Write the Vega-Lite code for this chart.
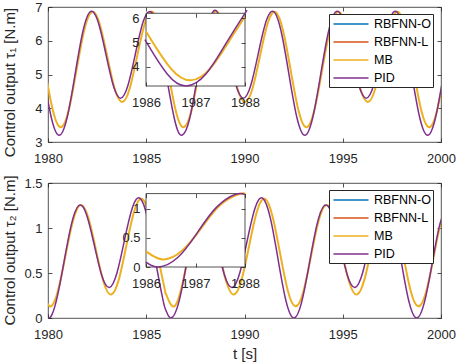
{
"$schema": "https://vega.github.io/schema/vega-lite/v6.json",
"background": "white",
"padding": {"left": 1, "top": 0, "right": 0, "bottom": 0},
"datasets": {
"p1": [
{"t":1979.789,"v":4.911},{"t":1980.179,"v":3.696},{"t":1980.570,"v":3.2},{"t":1980.961,"v":3.696},{"t":1981.351,"v":4.911},{"t":1981.742,"v":6.186},{"t":1982.133,"v":6.85},{"t":1982.523,"v":6.607},{"t":1982.914,"v":5.689},{"t":1983.304,"v":4.712},{"t":1983.695,"v":4.3},{"t":1984.086,"v":4.712},{"t":1984.476,"v":5.689},{"t":1984.867,"v":6.607},{"t":1985.258,"v":6.85},{"t":1985.648,"v":6.186},{"t":1986.000,"v":5.047},{"t":1986.039,"v":4.911},{"t":1986.429,"v":3.696},{"t":1986.820,"v":3.2},{"t":1987.211,"v":3.696},{"t":1987.601,"v":4.911},{"t":1987.992,"v":6.186},{"t":1988.000,"v":6.206},{"t":1988.383,"v":6.85},{"t":1988.773,"v":6.607},{"t":1989.164,"v":5.689},{"t":1989.554,"v":4.712},{"t":1989.945,"v":4.3},{"t":1990.336,"v":4.712},{"t":1990.726,"v":5.689},{"t":1991.117,"v":6.607},{"t":1991.508,"v":6.85},{"t":1991.898,"v":6.186},{"t":1992.289,"v":4.911},{"t":1992.679,"v":3.696},{"t":1993.070,"v":3.2},{"t":1993.461,"v":3.696},{"t":1993.851,"v":4.911},{"t":1994.242,"v":6.186},{"t":1994.633,"v":6.85},{"t":1995.023,"v":6.607},{"t":1995.414,"v":5.689},{"t":1995.804,"v":4.712},{"t":1996.195,"v":4.3},{"t":1996.586,"v":4.712},{"t":1996.976,"v":5.689},{"t":1997.367,"v":6.607},{"t":1997.758,"v":6.85},{"t":1998.148,"v":6.186},{"t":1998.539,"v":4.911},{"t":1998.929,"v":3.696},{"t":1999.320,"v":3.2},{"t":1999.711,"v":3.696},{"t":2000.101,"v":4.911}
],
"m1": [
{"t":1979.869,"v":5.065},{"t":1980.259,"v":3.909},{"t":1980.650,"v":3.435},{"t":1981.041,"v":3.909},{"t":1981.431,"v":5.065},{"t":1981.822,"v":6.261},{"t":1982.213,"v":6.85},{"t":1982.603,"v":6.548},{"t":1982.994,"v":5.595},{"t":1983.384,"v":4.602},{"t":1983.775,"v":4.185},{"t":1984.166,"v":4.602},{"t":1984.556,"v":5.595},{"t":1984.947,"v":6.548},{"t":1985.338,"v":6.85},{"t":1985.728,"v":6.261},{"t":1986.000,"v":5.458},{"t":1986.119,"v":5.065},{"t":1986.509,"v":3.909},{"t":1986.900,"v":3.435},{"t":1987.291,"v":3.909},{"t":1987.681,"v":5.065},{"t":1988.000,"v":6.07},{"t":1988.072,"v":6.261},{"t":1988.463,"v":6.85},{"t":1988.853,"v":6.548},{"t":1989.244,"v":5.595},{"t":1989.634,"v":4.602},{"t":1990.025,"v":4.185},{"t":1990.416,"v":4.602},{"t":1990.806,"v":5.595},{"t":1991.197,"v":6.548},{"t":1991.588,"v":6.85},{"t":1991.978,"v":6.261},{"t":1992.369,"v":5.065},{"t":1992.759,"v":3.909},{"t":1993.150,"v":3.435},{"t":1993.541,"v":3.909},{"t":1993.931,"v":5.065},{"t":1994.322,"v":6.261},{"t":1994.713,"v":6.85},{"t":1995.103,"v":6.548},{"t":1995.494,"v":5.595},{"t":1995.884,"v":4.602},{"t":1996.275,"v":4.185},{"t":1996.666,"v":4.602},{"t":1997.056,"v":5.595},{"t":1997.447,"v":6.548},{"t":1997.838,"v":6.85},{"t":1998.228,"v":6.261},{"t":1998.619,"v":5.065},{"t":1999.009,"v":3.909},{"t":1999.400,"v":3.435},{"t":1999.791,"v":3.909},{"t":2000.181,"v":5.065}
],
"p2": [
{"t":1979.609,"v":0.192},{"t":1980.000,"v":0.0},{"t":1980.391,"v":0.162},{"t":1980.781,"v":0.582},{"t":1981.172,"v":1.024},{"t":1981.563,"v":1.25},{"t":1981.953,"v":1.154},{"t":1982.344,"v":0.822},{"t":1982.734,"v":0.476},{"t":1983.125,"v":0.34},{"t":1983.516,"v":0.506},{"t":1983.906,"v":0.879},{"t":1984.297,"v":1.228},{"t":1984.688,"v":1.33},{"t":1985.078,"v":1.098},{"t":1985.469,"v":0.638},{"t":1985.859,"v":0.192},{"t":1986.000,"v":0.085},{"t":1986.250,"v":0.0},{"t":1986.641,"v":0.162},{"t":1987.031,"v":0.582},{"t":1987.422,"v":1.024},{"t":1987.813,"v":1.25},{"t":1988.000,"v":1.243},{"t":1988.203,"v":1.154},{"t":1988.594,"v":0.822},{"t":1988.984,"v":0.476},{"t":1989.375,"v":0.34},{"t":1989.766,"v":0.506},{"t":1990.156,"v":0.879},{"t":1990.547,"v":1.228},{"t":1990.938,"v":1.33},{"t":1991.328,"v":1.098},{"t":1991.719,"v":0.638},{"t":1992.109,"v":0.192},{"t":1992.500,"v":0.0},{"t":1992.891,"v":0.162},{"t":1993.281,"v":0.582},{"t":1993.672,"v":1.024},{"t":1994.063,"v":1.25},{"t":1994.453,"v":1.154},{"t":1994.844,"v":0.822},{"t":1995.234,"v":0.476},{"t":1995.625,"v":0.34},{"t":1996.016,"v":0.506},{"t":1996.406,"v":0.879},{"t":1996.797,"v":1.228},{"t":1997.188,"v":1.33},{"t":1997.578,"v":1.098},{"t":1997.969,"v":0.638},{"t":1998.359,"v":0.192},{"t":1998.750,"v":0.0},{"t":1999.141,"v":0.162},{"t":1999.531,"v":0.582},{"t":1999.922,"v":1.024},{"t":2000.313,"v":1.25}
],
"m2": [
{"t":1979.699,"v":0.309},{"t":1980.090,"v":0.13},{"t":1980.481,"v":0.282},{"t":1980.871,"v":0.672},{"t":1981.262,"v":1.072},{"t":1981.653,"v":1.255},{"t":1982.043,"v":1.122},{"t":1982.434,"v":0.764},{"t":1982.824,"v":0.402},{"t":1983.215,"v":0.26},{"t":1983.606,"v":0.429},{"t":1983.996,"v":0.813},{"t":1984.387,"v":1.187},{"t":1984.778,"v":1.325},{"t":1985.168,"v":1.137},{"t":1985.559,"v":0.721},{"t":1985.949,"v":0.309},{"t":1986.000,"v":0.269},{"t":1986.340,"v":0.13},{"t":1986.731,"v":0.282},{"t":1987.121,"v":0.672},{"t":1987.512,"v":1.072},{"t":1987.903,"v":1.255},{"t":1988.000,"v":1.251},{"t":1988.293,"v":1.122},{"t":1988.684,"v":0.764},{"t":1989.074,"v":0.402},{"t":1989.465,"v":0.26},{"t":1989.856,"v":0.429},{"t":1990.246,"v":0.813},{"t":1990.637,"v":1.187},{"t":1991.028,"v":1.325},{"t":1991.418,"v":1.137},{"t":1991.809,"v":0.721},{"t":1992.199,"v":0.309},{"t":1992.590,"v":0.13},{"t":1992.981,"v":0.282},{"t":1993.371,"v":0.672},{"t":1993.762,"v":1.072},{"t":1994.153,"v":1.255},{"t":1994.543,"v":1.122},{"t":1994.934,"v":0.764},{"t":1995.324,"v":0.402},{"t":1995.715,"v":0.26},{"t":1996.106,"v":0.429},{"t":1996.496,"v":0.813},{"t":1996.887,"v":1.187},{"t":1997.278,"v":1.325},{"t":1997.668,"v":1.137},{"t":1998.059,"v":0.721},{"t":1998.449,"v":0.309},{"t":1998.840,"v":0.13},{"t":1999.231,"v":0.282},{"t":1999.621,"v":0.672},{"t":2000.012,"v":1.072},{"t":2000.403,"v":1.255}
]
},
"spacing": 41,
"bounds": "flush",
"resolve": {"scale": {"color": "independent"}, "legend": {"color": "independent"}},
"vconcat": [
{
"width": 393, "height": 135,
"resolve": {"scale": {"x": "independent", "y": "independent"}, "axis": {"x": "independent", "y": "independent"}},
"layer": [
{"layer": [
{"data": {"name": "m1"}, "mark": {"type": "line", "interpolate": "natural", "clip": true, "strokeWidth": 2},
 "encoding": {
  "x": {"field": "t", "type": "quantitative", "scale": {"domain": [1980, 2000], "nice": false, "zero": false}, "axis": {"orient": "bottom", "values": [1980, 1985, 1990, 1995, 2000], "tickCount": 20, "format": "~g", "labelOverlap": false, "title": null}},
  "y": {"field": "v", "type": "quantitative", "scale": {"domain": [3, 7], "nice": false, "zero": false}, "axis": {"orient": "left", "values": [3, 4, 5, 6, 7], "tickCount": 20, "format": "~g", "labelOverlap": false, "labelPadding": 10, "title": "Control output τ₁ [N.m]", "titleX": -34, "titleY": 75, "titleAngle": 270, "titleBaseline": "alphabetic"}},
  "color": {"datum": "MB", "type": "nominal", "scale": {"domain": ["RBFNN-O", "RBFNN-L", "MB", "PID"], "range": ["#0072BD", "#D95319", "#EDB120", "#7E2F8E"]}, "legend": {"title": null, "orient": "none", "legendX": 281, "legendY": 7}}
 }},
{"data": {"name": "p1"}, "mark": {"type": "line", "interpolate": "natural", "clip": true, "strokeWidth": 1.5},
 "encoding": {
  "x": {"field": "t", "type": "quantitative"},
  "y": {"field": "v", "type": "quantitative"},
  "color": {"datum": "PID", "type": "nominal", "scale": {"domain": ["RBFNN-O", "RBFNN-L", "MB", "PID"], "range": ["#0072BD", "#D95319", "#EDB120", "#7E2F8E"]}}
 }}
]},
{"data": {"values": [{}]}, "mark": {"type": "point", "opacity": 0},
 "encoding": {
  "x": {"datum": 1990, "type": "quantitative", "scale": {"domain": [1980, 2000], "nice": false, "zero": false}, "axis": {"orient": "top", "values": [1980, 1985, 1990, 1995, 2000], "tickCount": 20, "labels": false, "title": null}},
  "y": {"datum": 5, "type": "quantitative", "scale": {"domain": [3, 7], "nice": false, "zero": false}, "axis": {"orient": "right", "values": [3, 4, 5, 6, 7], "tickCount": 20, "labels": false, "title": null}}
 }},
{"data": {"values": [{}]}, "mark": {"type": "rect", "fill": "white", "stroke": "#262626", "strokeWidth": 0.8},
 "encoding": {
  "x": {"datum": 1986, "type": "quantitative", "scale": {"domain": [1986, 1988], "range": [98, 197], "nice": false, "zero": false}, "axis": {"orient": "top", "offset": -6.3, "values": [1986, 1987, 1988], "tickCount": 20, "labels": false, "title": null, "zindex": 1}},
  "x2": {"datum": 1988},
  "y": {"datum": 3.2, "type": "quantitative", "scale": {"domain": [3.2, 6.21], "range": [79, 6.3], "nice": false, "zero": false}, "axis": {"orient": "right", "offset": -196, "values": [4, 5, 6], "tickCount": 20, "labels": false, "title": null, "zindex": 1}},
  "y2": {"datum": 6.21}
 }},
{"layer": [
{"data": {"name": "m1"}, "transform": [{"filter": "datum.t >= 1986 && datum.t <= 1988"}], "mark": {"type": "line", "interpolate": "natural", "strokeWidth": 2},
 "encoding": {
  "x": {"field": "t", "type": "quantitative", "scale": {"domain": [1986, 1988], "range": [98, 197], "nice": false, "zero": false}, "axis": {"orient": "bottom", "offset": -56, "values": [1986, 1987, 1988], "tickCount": 20, "format": "~g", "labelOverlap": false, "title": null, "zindex": 1}},
  "y": {"field": "v", "type": "quantitative", "scale": {"domain": [3.2, 6.21], "range": [79, 6.3], "nice": false, "zero": false}, "axis": {"orient": "left", "offset": -98, "values": [4, 5, 6], "tickCount": 20, "format": "~g", "labelOverlap": false, "labelPadding": 11, "title": null, "zindex": 1}},
  "color": {"datum": "MB", "type": "nominal", "scale": {"domain": ["RBFNN-O", "RBFNN-L", "MB", "PID"], "range": ["#0072BD", "#D95319", "#EDB120", "#7E2F8E"]}}
 }},
{"data": {"name": "p1"}, "transform": [{"filter": "datum.t >= 1986 && datum.t <= 1988"}], "mark": {"type": "line", "interpolate": "natural", "strokeWidth": 1.5},
 "encoding": {
  "x": {"field": "t", "type": "quantitative"},
  "y": {"field": "v", "type": "quantitative"},
  "color": {"datum": "PID", "type": "nominal", "scale": {"domain": ["RBFNN-O", "RBFNN-L", "MB", "PID"], "range": ["#0072BD", "#D95319", "#EDB120", "#7E2F8E"]}}
 }}
]}
]
},
{
"width": 393, "height": 135,
"resolve": {"scale": {"x": "independent", "y": "independent"}, "axis": {"x": "independent", "y": "independent"}},
"layer": [
{"layer": [
{"data": {"name": "m2"}, "mark": {"type": "line", "interpolate": "natural", "clip": true, "strokeWidth": 2},
 "encoding": {
  "x": {"field": "t", "type": "quantitative", "scale": {"domain": [1980, 2000], "nice": false, "zero": false}, "axis": {"orient": "bottom", "values": [1980, 1985, 1990, 1995, 2000], "tickCount": 20, "format": "~g", "labelOverlap": false, "title": "t [s]", "titleY": 40, "titleBaseline": "alphabetic"}},
  "y": {"field": "v", "type": "quantitative", "scale": {"domain": [0, 1.5], "nice": false, "zero": false}, "axis": {"orient": "left", "values": [0, 0.5, 1, 1.5], "tickCount": 20, "format": "~g", "labelOverlap": false, "labelPadding": 10, "title": "Control output τ₂ [N.m]", "titleX": -34, "titleY": 67, "titleAngle": 270, "titleBaseline": "alphabetic"}},
  "color": {"datum": "MB", "type": "nominal", "scale": {"domain": ["RBFNN-O", "RBFNN-L", "MB", "PID"], "range": ["#0072BD", "#D95319", "#EDB120", "#7E2F8E"]}, "legend": {"title": null, "orient": "none", "legendX": 281, "legendY": 7}}
 }},
{"data": {"name": "p2"}, "mark": {"type": "line", "interpolate": "natural", "clip": true, "strokeWidth": 1.5},
 "encoding": {
  "x": {"field": "t", "type": "quantitative"},
  "y": {"field": "v", "type": "quantitative"},
  "color": {"datum": "PID", "type": "nominal", "scale": {"domain": ["RBFNN-O", "RBFNN-L", "MB", "PID"], "range": ["#0072BD", "#D95319", "#EDB120", "#7E2F8E"]}}
 }}
]},
{"data": {"values": [{}]}, "mark": {"type": "point", "opacity": 0},
 "encoding": {
  "x": {"datum": 1990, "type": "quantitative", "scale": {"domain": [1980, 2000], "nice": false, "zero": false}, "axis": {"orient": "top", "values": [1980, 1985, 1990, 1995, 2000], "tickCount": 20, "labels": false, "title": null}},
  "y": {"datum": 0.5, "type": "quantitative", "scale": {"domain": [0, 1.5], "nice": false, "zero": false}, "axis": {"orient": "right", "values": [0, 0.5, 1, 1.5], "tickCount": 20, "labels": false, "title": null}}
 }},
{"data": {"values": [{}]}, "mark": {"type": "rect", "fill": "white", "stroke": "#262626", "strokeWidth": 0.8},
 "encoding": {
  "x": {"datum": 1986, "type": "quantitative", "scale": {"domain": [1986, 1988], "range": [98, 197], "nice": false, "zero": false}, "axis": {"orient": "top", "offset": -10.6, "values": [1986, 1987, 1988], "tickCount": 20, "labels": false, "title": null, "zindex": 1}},
  "x2": {"datum": 1988},
  "y": {"datum": 0, "type": "quantitative", "scale": {"domain": [0, 1.26], "range": [84, 10.6], "nice": false, "zero": false}, "axis": {"orient": "right", "offset": -196, "values": [0, 0.5, 1], "tickCount": 20, "labels": false, "title": null, "zindex": 1}},
  "y2": {"datum": 1.26}
 }},
{"layer": [
{"data": {"name": "m2"}, "transform": [{"filter": "datum.t >= 1986 && datum.t <= 1988"}], "mark": {"type": "line", "interpolate": "natural", "strokeWidth": 2},
 "encoding": {
  "x": {"field": "t", "type": "quantitative", "scale": {"domain": [1986, 1988], "range": [98, 197], "nice": false, "zero": false}, "axis": {"orient": "bottom", "offset": -51, "values": [1986, 1987, 1988], "tickCount": 20, "format": "~g", "labelOverlap": false, "title": null, "zindex": 1}},
  "y": {"field": "v", "type": "quantitative", "scale": {"domain": [0, 1.26], "range": [84, 10.6], "nice": false, "zero": false}, "axis": {"orient": "left", "offset": -98, "values": [0, 0.5, 1], "tickCount": 20, "format": "~g", "labelOverlap": false, "labelPadding": 10, "title": null, "zindex": 1}},
  "color": {"datum": "MB", "type": "nominal", "scale": {"domain": ["RBFNN-O", "RBFNN-L", "MB", "PID"], "range": ["#0072BD", "#D95319", "#EDB120", "#7E2F8E"]}}
 }},
{"data": {"name": "p2"}, "transform": [{"filter": "datum.t >= 1986 && datum.t <= 1988"}], "mark": {"type": "line", "interpolate": "natural", "strokeWidth": 1.5},
 "encoding": {
  "x": {"field": "t", "type": "quantitative"},
  "y": {"field": "v", "type": "quantitative"},
  "color": {"datum": "PID", "type": "nominal", "scale": {"domain": ["RBFNN-O", "RBFNN-L", "MB", "PID"], "range": ["#0072BD", "#D95319", "#EDB120", "#7E2F8E"]}}
 }}
]}
]
}
],
"config": {
 "font": "Liberation Sans",
 "view": {"stroke": "#262626", "strokeWidth": 0.8},
 "axis": {"labelFont": "Liberation Sans", "labelFontSize": 13, "labelColor": "#262626", "labelFlush": false, "labelOverlap": false, "tickColor": "#262626", "tickWidth": 0.8, "tickSize": -4, "domain": false, "grid": false, "labelPadding": 14, "titleFont": "Liberation Sans", "titleFontSize": 15, "titleFontWeight": "normal", "titleColor": "#262626"},
 "legend": {"symbolType": "M-2.5,0H2.5", "symbolSize": 196, "symbolStrokeWidth": 1.5, "symbolOffset": 12, "labelOffset": 15, "labelFont": "Liberation Sans", "labelFontSize": 12.5, "labelColor": "#000000", "rowPadding": 3, "padding": 2, "fillColor": "white", "strokeColor": "#262626", "labelLimit": 200}
}
}
